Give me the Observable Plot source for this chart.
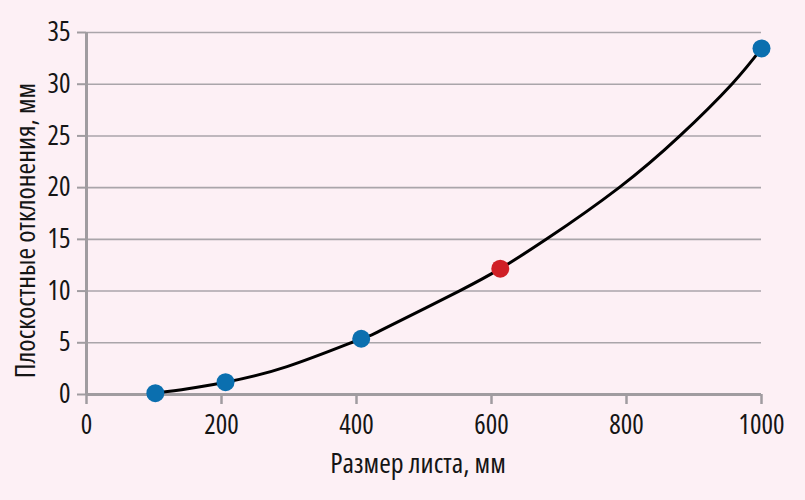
<!DOCTYPE html>
<html>
<head>
<meta charset="utf-8">
<script src="https://cdn.jsdelivr.net/npm/d3@7"></script>
<script src="https://cdn.jsdelivr.net/npm/@observablehq/plot@0.6"></script>
<style>
  html, body { margin: 0; padding: 0; background: #fdf0f5; }
  #chart svg, #chart svg text { font-family: 'Open Sans', sans-serif !important; font-stretch: 75%; }
</style>
</head>
<body>
<div id="chart"></div>
<script>
const sizes = [102, 206, 407, 613, 1000];            // Размер листа, мм
const deviations = [0.13, 1.19, 5.39, 12.17, 33.46]; // Плоскостные отклонения, мм
const highlight = [false, false, false, true, false];

// Trend curve
const curveX = [102, 150, 206, 297, 407, 436, 552, 613, 681, 789, 879, 956, 1000];
const curveY = [0.13, 0.55, 1.19, 2.7, 5.39, 6.2, 10, 12.17, 15, 20, 25, 30, 33.46];

const xTicks = [0, 200, 400, 600, 800, 1000];
const yTicks = [0, 5, 10, 15, 20, 25, 30, 35];
const xLabel = "Размер листа, мм";
const yLabel = "Плоскостные отклонения, мм";

const points = sizes.map((s, i) => ({x: s, y: deviations[i], red: highlight[i]}));
const curve = curveX.map((x, i) => ({x, y: curveY[i]}));

const chart = Plot.plot({
  width: 805,
  height: 500,
  marginLeft: 86,
  marginRight: 44,
  marginTop: 32,
  marginBottom: 106,
  style: {background: "#fdf0f5", fontFamily: "'Open Sans', sans-serif", fontSize: "27px", color: "#151515"},
  x: {domain: [0, 1000]},
  y: {domain: [0, 35]},
  marks: [
    Plot.ruleY(yTicks.filter(d => d > 0), {stroke: "#aaa5aa", strokeWidth: 1.6}),
    Plot.axisX(xTicks, {tickSize: 10, tickPadding: 10, tickFormat: d => String(d), stroke: "#a09ca0", strokeWidth: 2.5, strokeOpacity: 1, label: null}),
    Plot.axisY(yTicks, {tickSize: 9, tickPadding: 7, tickFormat: d => String(d), stroke: "#a09ca0", strokeWidth: 2, strokeOpacity: 1, label: null}),
    Plot.ruleY([0], {stroke: "#a09ca0", strokeWidth: 3}),
    Plot.ruleX([0], {stroke: "#a09ca0", strokeWidth: 3}),
    Plot.text([xLabel], {frameAnchor: "bottom", text: d => d, fontSize: 28, textAnchor: "middle", lineAnchor: "middle", dx: -6, dy: 70, fill: "#151515"}),
    Plot.text([yLabel], {frameAnchor: "left", text: d => d, fontSize: 28, rotate: -90, textAnchor: "middle", lineAnchor: "middle", dx: -60, dy: 17, fill: "#151515"}),
    Plot.line(curve, {x: "x", y: "y", curve: "natural", stroke: "#000", strokeWidth: 3}),
    Plot.dot(points, {x: "x", y: "y", r: 9, fill: d => d.red ? "#d01f26" : "#0b6faf", stroke: "none"})
  ]
});
document.getElementById("chart").appendChild(chart);
</script>
</body>
</html>
